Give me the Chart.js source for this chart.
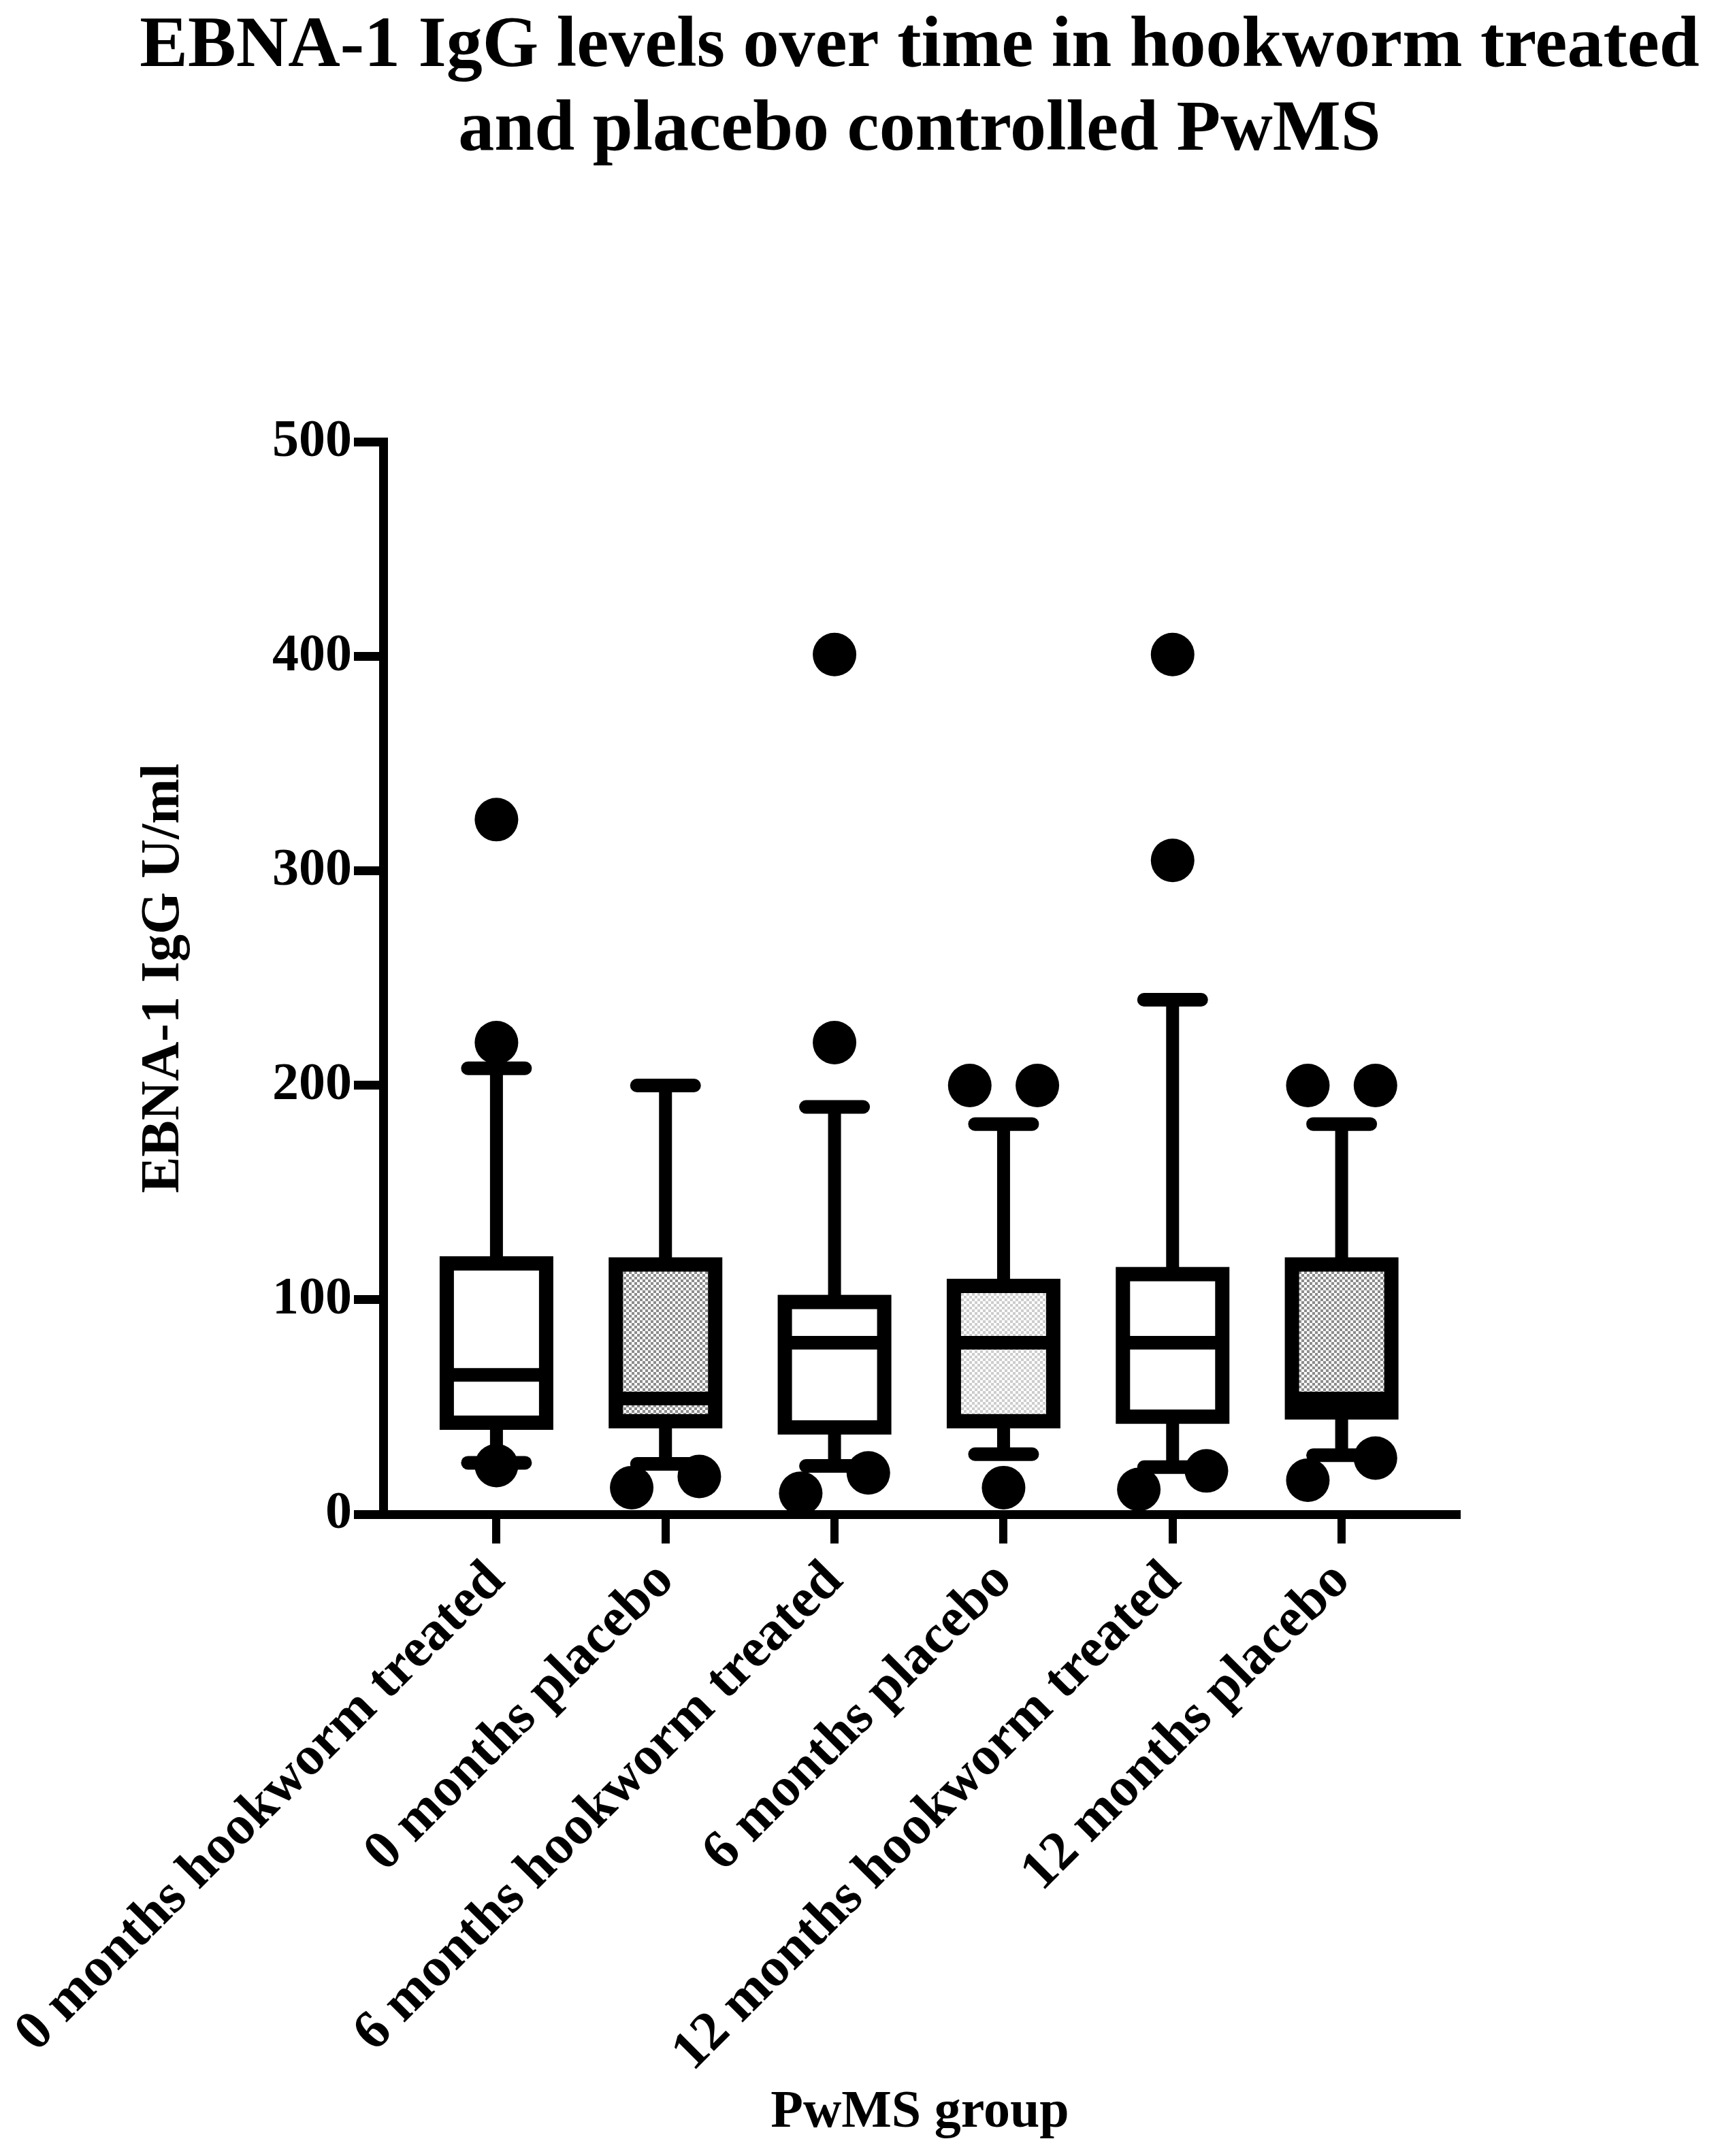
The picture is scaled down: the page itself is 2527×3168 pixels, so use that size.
<!DOCTYPE html>
<html>
<head>
<meta charset="utf-8">
<title>EBNA-1 IgG levels</title>
<script src="https://cdn.jsdelivr.net/npm/chart.js@4.4.1/dist/chart.umd.min.js"></script>
<style>
  body { margin: 0; background: #fff; }
  canvas { display: block; }
</style>
</head>
<body>
<canvas id="myChart" width="2527" height="3168"></canvas>
<script>
const groups = [
    '0 months hookworm treated',
    '0 months placebo',
    '6 months hookworm treated',
    '6 months placebo',
    '12 months hookworm treated',
    '12 months placebo'
];

// box plot values (U/ml)
const whiskerLow = [24, 23.5, 22.5, 28, 22, 27.5];
const q1 = [42.7, 43.4, 40.5, 43.4, 45.5, 47.5];
const median = [65, 54, 80, 80, 80, 54];
const q3 = [117, 116.5, 99, 106.5, 112, 116.5];
const whiskerHigh = [208, 200, 190, 182, 240, 182];
const outliers = [
    [22.7, 220, 324],
    [12.4, 17.6],
    [9.8, 19.3, 220, 401],
    [12.4, 200, 200],
    [11.6, 20.2, 305, 401],
    [15.9, 26.2, 200, 200]
];
const yTicks = [0, 100, 200, 300, 400, 500];

// fill style of each box
const boxFill = ['white', 'dark', 'white', 'light', 'white', 'dark'];

const FONT = "'Liberation Serif', 'Times New Roman', serif";
Chart.defaults.font.family = FONT;
Chart.defaults.font.weight = 'bold';
Chart.defaults.color = '#000';

function checker(color) {
    const c = document.createElement('canvas');
    c.width = 8;
    c.height = 8;
    const g = c.getContext('2d');
    g.fillStyle = '#fff';
    g.fillRect(0, 0, 8, 8);
    g.fillStyle = color;
    g.fillRect(0, 0, 4, 4);
    g.fillRect(4, 4, 4, 4);
    return g.createPattern(c, 'repeat');
}
const fills = { white: '#ffffff', dark: checker('#8c8c8c'), light: checker('#cdcdcd') };

// spread outliers sideways when two of them sit close together
const SPREAD = 0.2;
const outlierPoints = [];
outliers.forEach(function (vals, i) {
    const sorted = vals.slice().sort((a, b) => a - b);
    let k = 0;
    while (k < sorted.length) {
        if (k + 1 < sorted.length && sorted[k + 1] - sorted[k] < 15) {
            outlierPoints.push({ x: i - SPREAD, y: sorted[k] });
            outlierPoints.push({ x: i + SPREAD, y: sorted[k + 1] });
            k += 2;
        } else {
            outlierPoints.push({ x: i, y: sorted[k] });
            k += 1;
        }
    }
});

const BOX_HALF = 73;
const CAP_HALF = 42;

// whiskers, caps, box outlines and medians
const boxPlotLines = {
    id: 'boxPlotLines',
    afterDatasetsDraw(chart) {
        const ctx = chart.ctx;
        const x = chart.scales.x;
        const y = chart.scales.y;
        function seg(x1, y1, x2, y2) {
            ctx.beginPath();
            ctx.moveTo(x1, y1);
            ctx.lineTo(x2, y2);
            ctx.stroke();
        }
        ctx.save();
        ctx.strokeStyle = '#000';
        groups.forEach(function (g, i) {
            const cx = x.getPixelForValue(i);
            const top = y.getPixelForValue(q3[i]);
            const bot = y.getPixelForValue(q1[i]);
            const hi = y.getPixelForValue(whiskerHigh[i]);
            const lo = y.getPixelForValue(whiskerLow[i]);
            const mid = y.getPixelForValue(median[i]);

            ctx.lineCap = 'butt';
            ctx.lineWidth = 19;
            seg(cx, top, cx, hi);
            seg(cx, bot, cx, lo);

            ctx.lineCap = 'round';
            ctx.lineWidth = 20;
            seg(cx - CAP_HALF, hi, cx + CAP_HALF, hi);
            seg(cx - CAP_HALF, lo, cx + CAP_HALF, lo);

            ctx.lineCap = 'butt';
            ctx.lineJoin = 'miter';
            ctx.lineWidth = 21;
            ctx.strokeRect(cx - BOX_HALF, top, BOX_HALF * 2, bot - top);
            ctx.lineWidth = 20;
            seg(cx - BOX_HALF, mid, cx + BOX_HALF, mid);
        });
        // close the corner where the y axis meets the top tick
        const ax = chart.chartArea.left;
        const ay = y.getPixelForValue(yTicks[yTicks.length - 1]);
        ctx.fillStyle = '#000';
        ctx.fillRect(ax - 6.5, ay - 6.5, 13, 7);
        ctx.restore();
    }
};

const ctx = document.getElementById('myChart');
new Chart(ctx, {
    type: 'bar',
    data: {
        datasets: [
            {
                type: 'bar',
                data: groups.map((g, i) => ({ x: i, y: [q1[i], q3[i]] })),
                backgroundColor: boxFill.map(f => fills[f]),
                borderWidth: 0,
                barThickness: BOX_HALF * 2,
                xAxisID: 'x',
                yAxisID: 'y'
            },
            {
                type: 'scatter',
                data: outlierPoints,
                pointRadius: 32,
                pointHoverRadius: 32,
                pointBackgroundColor: '#000',
                pointBorderWidth: 0,
                clip: false,
                xAxisID: 'x',
                yAxisID: 'y'
            }
        ]
    },
    options: {
        responsive: false,
        animation: false,
        devicePixelRatio: 1,
        layout: { padding: { left: 175, right: 0, top: 0, bottom: 0 } },
        plugins: {
            legend: { display: false },
            tooltip: { enabled: false },
            title: {
                display: true,
                text: ['EBNA-1 IgG levels over time in hookworm treated', 'and placebo controlled PwMS'],
                font: { size: 106, weight: 'bold', lineHeight: 1.16 },
                color: '#000',
                padding: { top: 8, bottom: 396 }
            }
        },
        scales: {
            x: {
                type: 'linear',
                position: 'bottom',
                min: -0.67,
                max: 5.68,
                offset: false,
                afterBuildTicks: function (s) {
                    s.ticks = groups.map((g, i) => ({ value: i }));
                },
                afterFit: function (s) {
                    s.height = 943;
                    s.paddingLeft = 0;
                    s.paddingRight = 0;
                },
                ticks: {
                    autoSkip: false,
                    minRotation: 45,
                    maxRotation: 45,
                    padding: 8,
                    font: { size: 81, weight: 'bold' },
                    color: '#000',
                    callback: v => groups[v]
                },
                grid: {
                    offset: false,
                    drawOnChartArea: false,
                    drawTicks: true,
                    tickLength: 43,
                    lineWidth: 12,
                    color: '#000'
                },
                border: { display: true, width: 13, color: '#000' },
                title: {
                    display: true,
                    text: 'PwMS group',
                    font: { size: 78, weight: 'bold' },
                    color: '#000',
                    padding: { top: 0, bottom: 16 }
                }
            },
            y: {
                type: 'linear',
                position: 'left',
                min: yTicks[0],
                max: yTicks[yTicks.length - 1],
                afterBuildTicks: function (s) {
                    s.ticks = yTicks.map(v => ({ value: v }));
                },
                afterFit: function (s) {
                    s.width = 388;
                },
                ticks: {
                    padding: 3,
                    font: { size: 78, weight: 'bold' },
                    color: '#000'
                },
                grid: {
                    drawOnChartArea: false,
                    tickLength: 43,
                    lineWidth: 13,
                    color: '#000'
                },
                border: { display: true, width: 13, color: '#000' },
                title: {
                    display: true,
                    text: 'EBNA-1 IgG U/ml',
                    font: { size: 80, weight: 'bold' },
                    color: '#000',
                    padding: { top: 18, bottom: 0 }
                }
            },
            // empty axis that only keeps the right margin free
            padR: {
                type: 'linear',
                position: 'right',
                grid: { display: false },
                border: { display: false },
                ticks: { display: false },
                afterFit: function (s) {
                    s.width = 387;
                }
            }
        }
    },
    plugins: [boxPlotLines]
});
</script>
</body>
</html>
